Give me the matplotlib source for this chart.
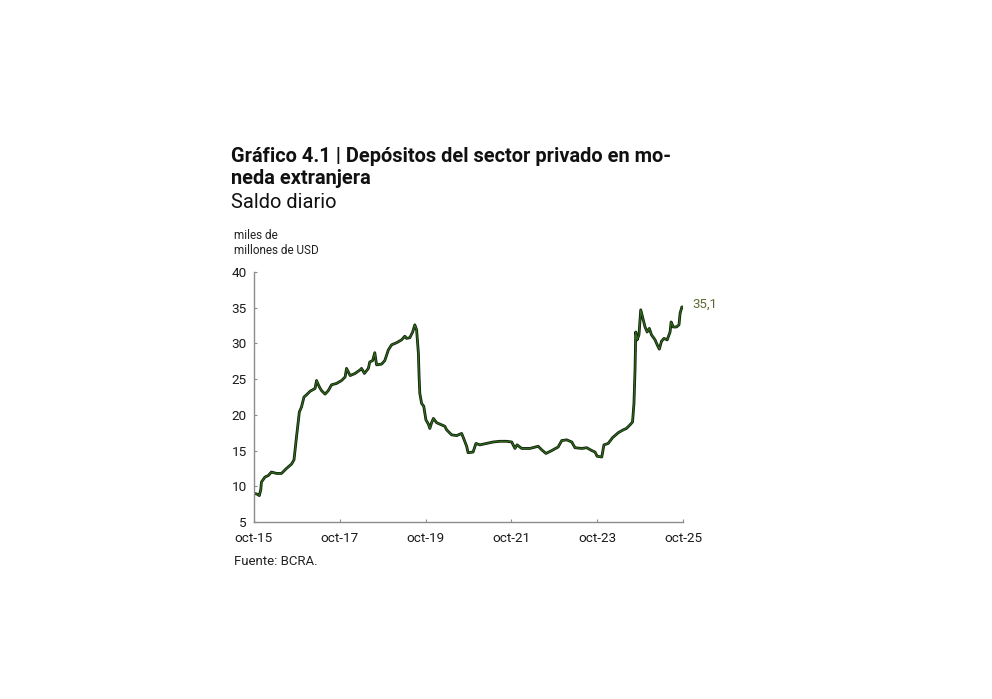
import numpy as np
import pandas as pd
import matplotlib.pyplot as plt

plt.rcParams['font.family'] = ['Roboto', 'DejaVu Sans']

# meses transcurridos desde oct-15 y saldo en miles de millones de USD
meses = [0.1, 0.9, 1.5, 1.9, 2.1, 3.1, 4.0, 4.9, 6.3, 7.7, 9.1, 10.5, 11.2, 11.9,
         12.7, 13.3, 14.0, 14.7, 15.7, 17.1, 17.5, 18.3, 18.9, 19.9, 20.8, 21.7,
         23.1, 24.5, 25.5, 25.9, 26.9, 28.3, 29.7, 30.1, 30.9, 32.0, 32.4, 33.2,
         33.8, 34.3, 35.7, 36.6, 37.6, 38.5, 39.9, 41.3, 42.2, 42.7, 43.6, 44.4,
         45.0, 45.5, 46.0, 46.2, 46.4, 46.9, 47.5, 48.1, 48.8, 49.2, 49.7, 50.2,
         51.1, 52.5, 53.4, 53.9, 55.3, 56.7, 58.1, 58.5, 59.5, 59.9, 61.3, 62.1,
         63.2, 65.1, 66.9, 68.8, 70.7, 72.1, 73.0, 73.6, 74.9, 77.2, 79.5, 80.5,
         81.7, 83.3, 85.1, 86.1, 87.5, 88.9, 89.8, 91.7, 93.1, 94.5, 95.4, 96.0,
         97.3, 97.9, 99.1, 100.3, 101.9, 103.3, 104.2, 105.2, 105.9, 106.3, 106.6,
         106.8, 107.2, 107.7, 108.2, 108.7, 109.4, 110.0, 110.6, 111.2, 112.2,
         112.8, 113.4, 114.0, 114.7, 115.6, 116.4, 116.7, 117.3, 118.2, 118.9,
         119.2, 119.7, 120.0]
saldo = [9.0, 8.9, 8.7, 9.5, 10.6, 11.3, 11.5, 12.0, 11.8, 11.8, 12.5, 13.1, 13.7, 16.9,
         20.4, 21.1, 22.5, 22.8, 23.3, 23.7, 24.8, 23.9, 23.4, 22.9, 23.4, 24.2,
         24.4, 24.8, 25.3, 26.5, 25.5, 25.8, 26.3, 26.5, 25.8, 26.5, 27.4, 27.6,
         28.7, 27.0, 27.1, 27.6, 29.1, 29.8, 30.1, 30.5, 31.0, 30.7, 30.8, 31.6,
         32.6, 31.9, 28.6, 25.3, 23.0, 21.6, 21.2, 19.3, 18.7, 18.1, 18.9, 19.5,
         18.9, 18.6, 18.4, 17.9, 17.2, 17.1, 17.4, 16.9, 15.6, 14.7, 14.8, 16.0,
         15.8, 16.0, 16.2, 16.3, 16.3, 16.2, 15.3, 15.8, 15.3, 15.3, 15.6, 15.1,
         14.6, 15.0, 15.5, 16.4, 16.5, 16.2, 15.4, 15.3, 15.4, 15.0, 14.8, 14.2,
         14.1, 15.8, 16.0, 16.8, 17.5, 17.9, 18.1, 18.6, 19.0, 21.6, 26.3,
         31.6, 30.5, 31.2, 34.7, 33.7, 32.3, 31.6, 32.1, 31.2, 30.5,
         29.8, 29.2, 30.3, 30.7, 30.5, 31.6, 33.0, 32.3, 32.3, 32.6,
         34.2, 35.1, 35.1]

inicio = pd.Timestamp('2015-10-01')
fechas = inicio + pd.to_timedelta(np.array(meses) * 30.4375, unit='D')

ticks = pd.to_datetime(['2015-10-01', '2017-10-01', '2019-10-01',
                        '2021-10-01', '2023-10-01', '2025-10-01'])
tick_labels = ['oct-15', 'oct-17', 'oct-19', 'oct-21', 'oct-23', 'oct-25']

fig = plt.figure(figsize=(9.92, 6.99), dpi=100)
ax = fig.add_axes([0.256, 0.2532, 0.4325, 0.3577])

ax.plot(fechas, saldo, color='#0d1a08', lw=2.0, solid_joinstyle='round')
ax.plot(fechas, saldo, color='#2f6a1c', lw=0.9, solid_joinstyle='round')

ax.set_xlim(ticks[0], ticks[-1])
ax.set_ylim(5, 40)
ax.set_yticks(range(5, 41, 5))
ax.set_xticks(ticks)
ax.set_xticklabels(tick_labels)

for s in ['top', 'right']:
    ax.spines[s].set_visible(False)
for s in ['left', 'bottom']:
    ax.spines[s].set_color('#8c8c8c')
    ax.spines[s].set_linewidth(1.0)
ax.tick_params(axis='both', direction='in', length=2, width=0.8, color='#8c8c8c',
               labelsize=9.7, labelcolor='#1a1a1a')
ax.tick_params(axis='x', pad=7)
ax.tick_params(axis='y', pad=5)

ax.annotate('35,1', xy=(fechas[-1], saldo[-1]), xytext=(7, 2),
            textcoords='offset points', fontsize=9.5, color='#5a6b35', va='center')

fig.text(0.233, 0.731, 'Gráfico 4.1 | Depósitos del sector privado en mo-\nneda extranjera',
         fontsize=14.4, fontweight='bold', color='#111111', va='bottom', linespacing=1.2)
fig.text(0.233, 0.697, 'Saldo diario', fontsize=14.4, color='#111111', va='bottom')
fig.text(0.236, 0.633, 'miles de\nmillones de USD', fontsize=8.5, color='#222222',
         va='bottom', linespacing=1.2)
fig.text(0.236, 0.188, 'Fuente: BCRA.', fontsize=9.5, color='#222222', va='bottom')

fig.savefig('out.png', dpi=100)
